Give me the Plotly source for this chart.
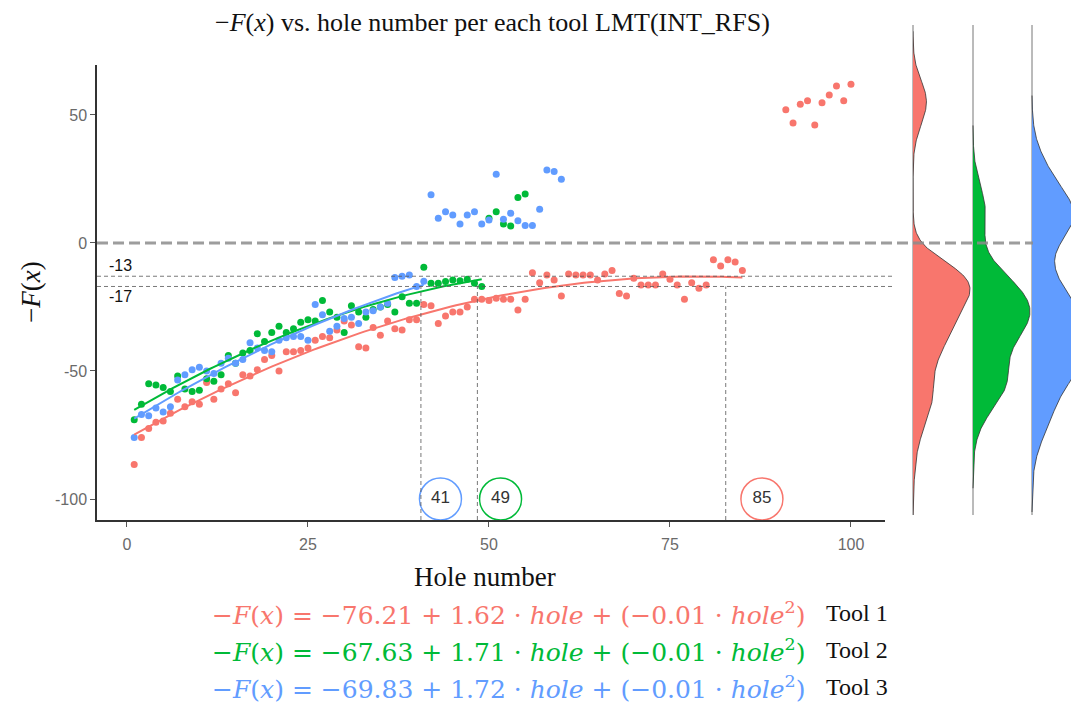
import numpy as np
import plotly.graph_objects as go

W, H = 1071, 705

# ---------------- data ----------------
tool_names = ["Tool 1", "Tool 2", "Tool 3"]
colors = ["#F8766D", "#00BA38", "#619CFF"]

tool1_holes = list(range(1, 86)) + list(range(91, 101))
tool1_vals = [-86.5, -76, -72.5, -70, -69.5, -66.5, -61, -64, -62, -63,
              -54.5, -61, -57, -55, -58.5, -51.5, -52, -49.5, -45.5, -44,
              -50, -42.5, -42.5, -42, -41, -38, -36.5, -37, -34, -30.5,
              -32, -40.5, -41, -33, -36, -30.5, -33.5, -34, -30, -30,
              -24, -24.5, -31.5, -28.5, -27, -27, -25, -22, -22, -22.5,
              -21.6, -22, -22, -26.2, -22, -11.6, -15.5, -12.5, -14.5, -20.7,
              -12.1, -12.5, -12.5, -12.5, -14.5, -12.1, -10.8, -19.7, -20.7, -13.8,
              -16.4, -16.4, -16.4, -12.1, -14.2, -16.4, -22, -15.5, -17.7, -16.4,
              -6.6, -9, -6.6, -7.4, -10.8,
              52, 46.8, 54.2, 55.5, 46.1, 54.8, 57.8, 61.3, 55.5, 62]

tool2_holes = list(range(1, 56))
tool2_vals = [-69, -63, -55, -55.5, -56.5, -58, -52, -57, -58, -57.5,
              -53, -54, -51.5, -44, -47, -43, -42, -35.5, -38.5, -35,
              -32.5, -35, -33.5, -31, -30, -30.5, -22.5, -27, -29, -35,
              -24.5, -27, -29, -26, -25, -24, -27, -21, -23.5, -23.5,
              -9.5, -15.7, -15.7, -15.1, -14.5, -14.8, -14.2, -15.7, -17,
              9.6, 12.2, 7.4, 6.6, 17.8, 19.1]

tool3_holes = list(range(1, 61))
tool3_vals = [-76, -67, -67.5, -64.5, -66, -64, -53.5, -51.5, -49.5, -48.5,
              -50, -51, -47, -45, -47, -45.5, -39, -41, -42, -42.5,
              -38, -37, -36.5, -36.5, -38, -24, -28, -34.5, -32.5, -29.5,
              -29, -31.5, -27, -26.5, -25, -23.5, -13.5, -13, -12.5, -17,
              -15,
              18.8, 9.6, 12.2, 10.9, 7.4, 10.9, 12.2, 7.4, 9.0, 26.8,
              9.3, 11.6, 8.7, 6.8, 6.8, 13.2, 28.5, 27.9, 24.9]

# last hole of each tool before the jump (fit range) and marker lines
fit_last_hole = [85, 49, 41]
vline_x = [82.7, 48.4, 40.6]
circle_labels = ["85", "49", "41"]
circle_x = [87.7, 51.6, 43.3]
circle_y = -100
ref_levels = [-13, -17]

x_ticks = [0, 25, 50, 75, 100]
y_ticks = [-100, -50, 0, 50]
y_ticklabels = ["-100", "-50", "0", "50"]

# equations shown below
eq_intercepts = ["−76.21", "−67.63", "−69.83"]
eq_slopes = ["1.62", "1.71", "1.72"]
eq_quads = ["−0.01", "−0.01", "−0.01"]

# density bandwidth adjustment per tool
dens_adjust = [0.9, 1.05, 0.85]

holes_all = [tool1_holes, tool2_holes, tool3_holes]
vals_all = [tool1_vals, tool2_vals, tool3_vals]

# ---------------- layout geometry ----------------
def pxx(p):
    return p / W

def pxy(p):
    return 1 - p / H

x_dom = [pxx(97), pxx(885)]
y_dom = [pxy(520), pxy(65)]
x_rng = [-4.14, 104.7]
y_rng = [-108.2, 69.5]

def y_paper(v):
    return y_dom[0] + (v - y_rng[0]) / (y_rng[1] - y_rng[0]) * (y_dom[1] - y_dom[0])

def paper_to_y(p):
    return y_rng[0] + (p - y_dom[0]) / (y_dom[1] - y_dom[0]) * (y_rng[1] - y_rng[0])

# density panel axis (same vertical scale as main)
y2_dom = [pxy(515), pxy(25)]
y2_rng = [paper_to_y(y2_dom[0]), paper_to_y(y2_dom[1])]
x2_dom = [pxx(913), 1.0]
x2_rng = [0, 158]
dens_offsets = [0, 60, 119]
dens_width = 57

fig = go.Figure()

# scatter points
for h, v, c in zip(holes_all, vals_all, colors):
    fig.add_trace(go.Scatter(x=h, y=v, mode="markers",
                             marker=dict(color=c, size=7, line=dict(width=0)),
                             showlegend=False, hoverinfo="skip"))

# quadratic fits
for h, v, c, last in zip(holes_all, vals_all, colors, fit_last_hole):
    h = np.array(h, float); v = np.array(v, float)
    m = h <= last
    coef = np.polyfit(h[m], v[m], 2)
    xs = np.linspace(h[m].min(), h[m].max(), 120)
    fig.add_trace(go.Scatter(x=xs, y=np.polyval(coef, xs), mode="lines",
                             line=dict(color=c, width=2),
                             showlegend=False, hoverinfo="skip"))

# circles with labels
for cx, lab, c in zip(circle_x, circle_labels, colors):
    fig.add_trace(go.Scatter(x=[cx], y=[circle_y], mode="markers+text",
                             text=[lab], textposition="middle center",
                             textfont=dict(family="Liberation Sans", size=17, color="#333333"),
                             marker=dict(symbol="circle-open", size=42,
                                         line=dict(color=c, width=1.5), color=c),
                             cliponaxis=False, showlegend=False, hoverinfo="skip"))

# densities
def bw_nrd0(x):
    n = len(x)
    sd = np.std(x, ddof=1)
    q75, q25 = np.percentile(x, [75, 25])
    lo = min(sd, (q75 - q25) / 1.34)
    return 0.9 * lo * n ** -0.2

for v, c, off, adj in zip(vals_all, colors, dens_offsets, dens_adjust):
    v = np.array(v, float)
    bw = bw_nrd0(v) * adj
    grid = np.linspace(v.min() - 3 * bw, v.max() + 3 * bw, 400)
    z = (grid[:, None] - v[None, :]) / bw
    d = np.exp(-0.5 * z ** 2).sum(1) / (len(v) * bw * np.sqrt(2 * np.pi))
    d = d / d.max() * dens_width
    xs = np.concatenate([[off], off + d, [off]])
    ys = np.concatenate([[grid[0]], grid, [grid[-1]]])
    fig.add_trace(go.Scatter(x=xs, y=ys, mode="lines", fill="toself",
                             fillcolor=c, line=dict(color="#333333", width=0.8),
                             xaxis="x2", yaxis="y2",
                             showlegend=False, hoverinfo="skip"))

shapes = []
# density baselines
for off in dens_offsets:
    xp = x2_dom[0] + off / (x2_rng[1] - x2_rng[0]) * (x2_dom[1] - x2_dom[0])
    shapes.append(dict(type="line", xref="paper", yref="paper",
                       x0=xp, x1=xp, y0=y2_dom[0], y1=y2_dom[1],
                       line=dict(color="#777777", width=1), layer="below"))
# reference levels -13/-17
for lv in ref_levels:
    shapes.append(dict(type="line", xref="paper", yref="paper",
                       x0=x_dom[0], x1=pxx(895), y0=y_paper(lv), y1=y_paper(lv),
                       line=dict(color="#555555", width=0.8, dash="4px,3px")))
# vertical markers
for vx in vline_x:
    shapes.append(dict(type="line", xref="x", yref="y",
                       x0=vx, x1=vx, y0=y_rng[0], y1=ref_levels[1],
                       line=dict(color="#555555", width=0.8, dash="4px,3px")))
# zero line
shapes.append(dict(type="line", xref="paper", yref="paper",
                   x0=x_dom[0], x1=pxx(1033), y0=y_paper(0), y1=y_paper(0),
                   line=dict(color="rgba(140,140,140,0.85)", width=3, dash="11px,5px")))

annotations = []
# -13 / -17 labels
annotations.append(dict(text=str(ref_levels[0]), x=pxx(107), y=y_paper(ref_levels[0]),
                        xref="paper", yref="paper", xanchor="left", yanchor="bottom",
                        showarrow=False, font=dict(family="Liberation Sans", size=16, color="#111111")))
annotations.append(dict(text=str(ref_levels[1]), x=pxx(107), y=y_paper(ref_levels[1]),
                        xref="paper", yref="paper", xanchor="left", yanchor="top",
                        showarrow=False, font=dict(family="Liberation Sans", size=16, color="#111111")))
# title
annotations.append(dict(text="−<i>F</i>(<i>x</i>) vs. hole number per each tool LMT(INT_RFS)",
                        x=pxx(492), y=pxy(22), xref="paper", yref="paper",
                        xanchor="center", yanchor="middle", showarrow=False,
                        font=dict(family="Liberation Serif", size=26, color="#111111")))
# axis titles
annotations.append(dict(text="Hole number", x=pxx(485), y=pxy(577), xref="paper", yref="paper",
                        xanchor="center", yanchor="middle", showarrow=False,
                        font=dict(family="Liberation Serif", size=27, color="#111111")))
annotations.append(dict(text="−<i>F</i>(<i>x</i>)", x=pxx(31), y=pxy(292), xref="paper", yref="paper",
                        xanchor="center", yanchor="middle", showarrow=False, textangle=-90,
                        font=dict(family="Liberation Serif", size=27, color="#111111")))
# equations
eq_y = [613, 650, 687]
for i in range(3):
    txt = ("−<i>F</i>(<i>x</i>) = %s + %s · <i>hole</i> + (%s · <i>hole</i><sup>2</sup>)"
           % (eq_intercepts[i], eq_slopes[i], eq_quads[i]))
    annotations.append(dict(text=txt, x=pxx(808), y=pxy(eq_y[i]), xref="paper", yref="paper",
                            xanchor="right", yanchor="middle", showarrow=False,
                            font=dict(family="DejaVu Serif", size=25, color=colors[i])))
    annotations.append(dict(text=tool_names[i], x=pxx(824), y=pxy(eq_y[i]), xref="paper", yref="paper",
                            xanchor="left", yanchor="middle", showarrow=False,
                            font=dict(family="Liberation Serif", size=24, color="#111111")))

fig.update_layout(
    width=W, height=H, margin=dict(l=0, r=0, t=0, b=0),
    paper_bgcolor="white", plot_bgcolor="rgba(0,0,0,0)",
    showlegend=False,
    xaxis=dict(domain=x_dom, range=x_rng, tickvals=x_ticks,
               showgrid=False, zeroline=False, showline=True, linecolor="#333333", linewidth=1.5,
               ticks="outside", ticklen=5, tickcolor="#555555", ticklabelstandoff=4,
               tickfont=dict(family="Liberation Sans", size=16, color="#6a6a6a"),
               anchor="y"),
    yaxis=dict(domain=y_dom, range=y_rng, tickvals=y_ticks, ticktext=y_ticklabels,
               showgrid=False, zeroline=False, showline=True, linecolor="#333333", linewidth=1.5,
               ticks="outside", ticklen=5, tickcolor="#555555",
               tickfont=dict(family="Liberation Sans", size=16, color="#6a6a6a"),
               anchor="x"),
    xaxis2=dict(domain=x2_dom, range=x2_rng, visible=False, anchor="y2"),
    yaxis2=dict(domain=y2_dom, range=y2_rng, visible=False, anchor="x2"),
    shapes=shapes, annotations=annotations,
)

fig.write_html("out.html")
